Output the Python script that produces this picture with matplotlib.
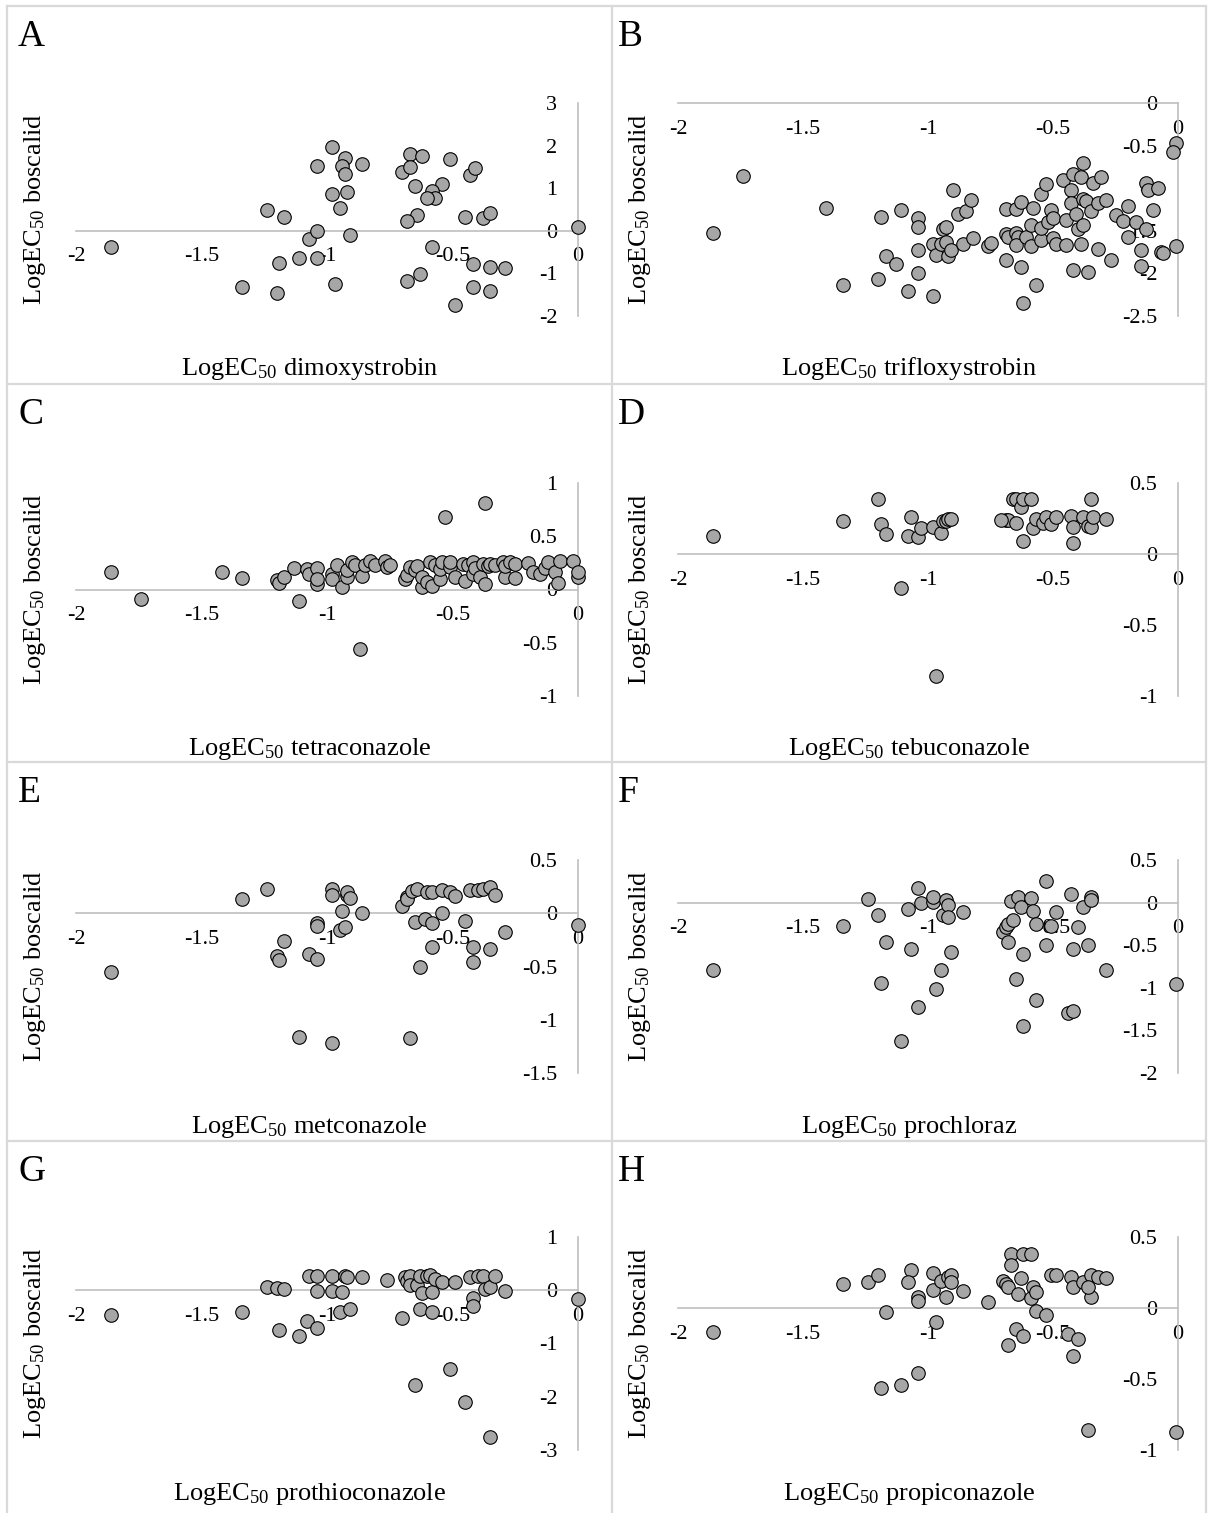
import matplotlib
matplotlib.use('Agg')
import matplotlib.pyplot as plt
from matplotlib.ticker import FuncFormatter
from matplotlib.lines import Line2D

plt.rcParams['font.family'] = ['Liberation Serif', 'DejaVu Serif']
plt.rcParams['mathtext.fontset'] = 'custom'
plt.rcParams['mathtext.rm'] = 'Liberation Serif'
plt.rcParams['mathtext.it'] = 'Liberation Serif:italic'
plt.rcParams['axes.unicode_minus'] = False

# ---------------- data ----------------
letters = ['A', 'B', 'C', 'D', 'E', 'F', 'G', 'H']
fungicides = ['dimoxystrobin', 'trifloxystrobin', 'tetraconazole', 'tebuconazole',
              'metconazole', 'prochloraz', 'prothioconazole', 'propiconazole']
x_ticks = [-2, -1.5, -1, -0.5, 0]
y_ticks_A = [-2, -1, 0, 1, 2, 3]
y_ticks_B = [-2.5, -2, -1.5, -1, -0.5, 0]
y_ticks_C = [-1, -0.5, 0, 0.5, 1]
y_ticks_D = [-1, -0.5, 0, 0.5]
y_ticks_E = [-1.5, -1, -0.5, 0, 0.5]
y_ticks_F = [-2, -1.5, -1, -0.5, 0, 0.5]
y_ticks_G = [-3, -2, -1, 0, 1]
y_ticks_H = [-1, -0.5, 0, 0.5]

A_x = [-1.86, -1.24, -1.17, -1.34, -1.20, -1.19, -1.11, -1.04, -1.07, -1.04,
       -1.04, -0.98, -0.93, -0.94, -0.93, -0.86, -0.98, -0.92, -0.95, -0.91,
       -0.97, -0.70, -0.67, -0.62, -0.67, -0.65, -0.51, -0.54, -0.58, -0.57,
       -0.60, -0.64, -0.68, -0.43, -0.41, -0.45, -0.38, -0.35, -0.58, -0.42,
       -0.35, -0.29, -0.63, -0.68, -0.42, -0.35, -0.49, 0.00]
A_y = [-0.39, 0.49, 0.33, -1.32, -1.46, -0.76, -0.63, -0.65, -0.19, 0.00,
       1.52, 1.97, 1.72, 1.52, 1.34, 1.57, 0.87, 0.91, 0.54, -0.09,
       -1.26, 1.38, 1.80, 1.76, 1.50, 1.06, 1.69, 1.09, 0.94, 0.77,
       0.77, 0.38, 0.24, 1.32, 1.47, 0.33, 0.30, 0.42, -0.39, -0.79,
       -0.85, -0.87, -1.01, -1.18, -1.31, -1.42, -1.75, 0.10]

B_x = [-1.86, -1.74, -1.41, -1.34, -1.19, -1.17, -1.20, -1.13, -1.11, -1.08,
       -1.04, -1.04, -1.04, -1.04, -0.98, -0.98, -0.97, -0.95, -0.94, -0.93,
       -0.93, -0.92, -0.91, -0.90, -0.88, -0.85, -0.83, -0.86, -0.82, -0.76,
       -0.75, -0.69, -0.69, -0.65, -0.63, -0.69, -0.68, -0.65, -0.64, -0.65,
       -0.61, -0.59, -0.59, -0.63, -0.62, -0.57, -0.58, -0.55, -0.55, -0.55,
       -0.53, -0.52, -0.51, -0.50, -0.50, -0.49, -0.45, -0.46, -0.45, -0.43,
       -0.43, -0.42, -0.42, -0.41, -0.40, -0.39, -0.39, -0.38, -0.38, -0.38,
       -0.37, -0.36, -0.35, -0.34, -0.32, -0.32, -0.31, -0.29, -0.27, -0.25,
       -0.22, -0.20, -0.20, -0.17, -0.15, -0.15, -0.13, -0.13, -0.12, -0.10,
       -0.08, -0.07, -0.06, -0.01, -0.01, -0.02]
B_y = [-1.53, -0.86, -1.23, -2.14, -1.34, -1.80, -2.06, -1.89, -1.26, -2.21,
       -1.35, -1.46, -1.73, -2.00, -2.27, -1.65, -1.78, -1.66, -1.48, -1.46,
       -1.63, -1.80, -1.73, -1.02, -1.30, -1.27, -1.14, -1.66, -1.58, -1.68,
       -1.64, -1.84, -1.24, -1.24, -1.16, -1.54, -1.57, -1.52, -1.57, -1.67,
       -1.57, -1.43, -1.68, -1.92, -2.35, -2.14, -1.23, -1.61, -1.47, -1.07,
       -0.95, -1.40, -1.26, -1.35, -1.58, -1.65, -1.67, -0.90, -1.37, -1.02,
       -1.17, -1.96, -0.83, -1.30, -1.48, -0.87, -1.66, -1.43, -0.70, -1.13,
       -1.15, -1.98, -1.27, -0.94, -1.17, -1.71, -0.87, -1.14, -1.84, -1.31,
       -1.38, -1.21, -1.57, -1.40, -1.72, -1.91, -1.48, -0.94, -1.02, -1.26,
       -1.00, -1.75, -1.76, -1.68, -0.47, -0.58]

C_x = [-1.86, -1.74, -1.42, -1.34, -1.20, -1.19, -1.17, -1.13, -1.11, -1.08,
       -1.07, -1.04, -1.04, -1.04, -0.98, -0.98, -0.96, -0.94, -0.92, -0.92,
       -0.90, -0.89, -0.86, -0.85, -0.83, -0.81, -0.77, -0.76, -0.75, -0.69,
       -0.68, -0.67, -0.65, -0.64, -0.62, -0.62, -0.60, -0.59, -0.58, -0.57,
       -0.55, -0.55, -0.54, -0.53, -0.51, -0.51, -0.49, -0.46, -0.45, -0.44,
       -0.42, -0.42, -0.41, -0.39, -0.38, -0.37, -0.37, -0.36, -0.35, -0.33,
       -0.30, -0.29, -0.29, -0.27, -0.25, -0.25, -0.20, -0.18, -0.15, -0.13,
       -0.12, -0.09, -0.08, -0.07, -0.02, 0.00, 0.00, -0.87]
C_y = [0.16, -0.09, 0.16, 0.11, 0.09, 0.06, 0.12, 0.20, -0.11, 0.19,
       0.15, 0.20, 0.05, 0.10, 0.15, 0.10, 0.23, 0.02, 0.12, 0.18,
       0.26, 0.23, 0.13, 0.23, 0.27, 0.23, 0.27, 0.21, 0.23, 0.10,
       0.14, 0.21, 0.18, 0.22, 0.02, 0.12, 0.07, 0.26, 0.03, 0.23,
       0.10, 0.19, 0.26, 0.68, 0.21, 0.26, 0.12, 0.24, 0.08, 0.23,
       0.26, 0.15, 0.20, 0.12, 0.24, 0.81, 0.05, 0.22, 0.24, 0.23,
       0.26, 0.12, 0.22, 0.26, 0.11, 0.24, 0.25, 0.16, 0.15, 0.20,
       0.26, 0.16, 0.06, 0.27, 0.27, 0.12, 0.16, -0.56]

D_x = [-1.86, -1.34, -1.20, -1.19, -1.17, -1.11, -1.08, -1.07, -1.04, -1.03,
       -0.98, -0.95, -0.94, -0.93, -0.92, -0.91, -0.97, -0.69, -0.68, -0.66,
       -0.65, -0.65, -0.63, -0.62, -0.62, -0.59, -0.58, -0.57, -0.54, -0.53,
       -0.51, -0.49, -0.43, -0.42, -0.42, -0.38, -0.36, -0.35, -0.35, -0.34,
       -0.29, -0.71]
D_y = [0.13, 0.23, 0.39, 0.21, 0.14, -0.24, 0.13, 0.26, 0.12, 0.18,
       0.19, 0.15, 0.23, 0.23, 0.25, 0.25, -0.86, 0.24, 0.24, 0.39,
       0.22, 0.39, 0.33, 0.09, 0.39, 0.39, 0.18, 0.25, 0.22, 0.26,
       0.21, 0.26, 0.27, 0.08, 0.19, 0.26, 0.20, 0.39, 0.19, 0.26,
       0.25, 0.24]

E_x = [-1.86, -1.34, -1.24, -1.17, -1.20, -1.19, -1.11, -1.07, -1.04, -1.04,
       -1.04, -0.98, -0.98, -0.98, -0.95, -0.94, -0.93, -0.92, -0.92, -0.91,
       -0.86, -0.70, -0.68, -0.68, -0.67, -0.66, -0.65, -0.64, -0.63, -0.61,
       -0.60, -0.58, -0.58, -0.58, -0.54, -0.54, -0.51, -0.49, -0.45, -0.43,
       -0.42, -0.42, -0.40, -0.38, -0.35, -0.35, -0.33, -0.29, 0.00]
E_y = [-0.55, 0.13, 0.23, -0.26, -0.40, -0.44, -1.16, -0.38, -0.43, -0.09,
       -0.12, 0.23, 0.17, -1.22, -0.16, 0.02, -0.13, 0.17, 0.20, 0.14,
       0.00, 0.07, 0.15, 0.13, -1.17, 0.21, -0.08, 0.23, -0.50, -0.05,
       0.20, -0.09, -0.32, 0.20, 0.00, 0.22, 0.20, 0.16, -0.07, 0.22,
       -0.32, -0.46, 0.22, 0.23, 0.25, -0.34, 0.17, -0.18, -0.11]

F_x = [-1.86, -1.34, -1.24, -1.20, -1.19, -1.17, -1.11, -1.08, -1.07, -1.04,
       -1.03, -1.04, -0.98, -0.98, -0.97, -0.95, -0.94, -0.93, -0.92, -0.92,
       -0.91, -0.86, -0.70, -0.69, -0.68, -0.68, -0.67, -0.66, -0.65, -0.64,
       -0.63, -0.62, -0.62, -0.59, -0.58, -0.57, -0.57, -0.53, -0.53, -0.51,
       -0.49, -0.44, -0.43, -0.42, -0.42, -0.40, -0.38, -0.36, -0.35, -0.35,
       -0.29, -0.01]
F_y = [-0.79, -0.27, 0.04, -0.14, -0.94, -0.46, -1.63, -0.07, -0.54, 0.17,
       -0.01, -1.23, 0.01, 0.06, -1.01, -0.79, -0.14, 0.03, -0.03, -0.17,
       -0.58, -0.11, -0.34, -0.29, -0.25, -0.46, 0.02, -0.20, -0.90, 0.06,
       -0.05, -1.45, -0.60, 0.05, -0.10, -0.25, -1.14, 0.25, -0.50, -0.27,
       -0.11, -1.30, 0.10, -0.55, -1.27, -0.29, -0.05, -0.50, 0.06, 0.03,
       -0.79, -0.95]

G_x = [-1.86, -1.34, -1.24, -1.20, -1.17, -1.19, -1.11, -1.08, -1.04, -1.07,
       -1.04, -1.04, -0.98, -0.98, -0.95, -0.94, -0.93, -0.92, -0.91, -0.86,
       -0.76, -0.70, -0.69, -0.68, -0.67, -0.67, -0.65, -0.64, -0.63, -0.63,
       -0.62, -0.60, -0.59, -0.58, -0.58, -0.57, -0.54, -0.51, -0.49, -0.45,
       -0.43, -0.42, -0.42, -0.40, -0.38, -0.37, -0.35, -0.35, -0.33, -0.29,
       0.00]
G_y = [-0.46, -0.40, 0.07, 0.04, 0.03, -0.74, -0.86, -0.58, -0.71, 0.26,
       0.26, -0.01, 0.26, -0.01, -0.40, -0.03, 0.26, 0.24, -0.36, 0.24,
       0.20, -0.52, 0.24, 0.18, 0.27, 0.09, -1.78, 0.10, 0.26, -0.36,
       -0.05, 0.26, 0.29, -0.40, -0.03, 0.22, 0.15, -1.48, 0.15, -2.09,
       0.24, -0.15, -0.29, 0.27, 0.27, 0.03, -2.75, 0.07, 0.27, -0.01,
       -0.17]

H_x = [-1.86, -1.34, -1.24, -1.20, -1.17, -1.19, -1.11, -1.07, -1.08, -1.04,
       -1.04, -1.04, -0.98, -0.98, -0.97, -0.95, -0.93, -0.92, -0.91, -0.91,
       -0.86, -0.76, -0.70, -0.69, -0.68, -0.68, -0.67, -0.67, -0.65, -0.64,
       -0.63, -0.62, -0.62, -0.59, -0.59, -0.58, -0.57, -0.57, -0.53, -0.51,
       -0.49, -0.44, -0.43, -0.42, -0.42, -0.40, -0.38, -0.35, -0.35, -0.32,
       -0.36, -0.29, -0.01, -0.36]
H_y = [-0.17, 0.17, 0.18, 0.23, -0.03, -0.56, -0.54, 0.27, 0.18, 0.08,
       0.05, -0.46, 0.25, 0.13, -0.10, 0.19, 0.08, 0.22, 0.23, 0.18,
       0.12, 0.04, 0.19, 0.17, -0.26, 0.15, 0.38, 0.30, -0.15, 0.10,
       0.21, -0.20, 0.38, 0.38, 0.07, 0.15, 0.11, -0.02, -0.05, 0.23,
       0.23, -0.18, 0.22, 0.15, -0.34, -0.22, 0.18, 0.08, 0.23, 0.22,
       -0.86, 0.21, -0.87, 0.15]

xs = [A_x, B_x, C_x, D_x, E_x, F_x, G_x, H_x]
ys = [A_y, B_y, C_y, D_y, E_y, F_y, G_y, H_y]
yticks = [y_ticks_A, y_ticks_B, y_ticks_C, y_ticks_D,
          y_ticks_E, y_ticks_F, y_ticks_G, y_ticks_H]

# ---------------- layout (pixels) ----------------
W, H = 1208, 1513
fig = plt.figure(figsize=(W / 100, H / 100), dpi=100)

cell_left = [7, 612]
cell_right = [612, 1206]
cell_top = [6, 384, 762, 1141]
ax_left = [76, 678]
ax_width = [502, 500]
ax_top = [103, 483, 860, 1237]
ax_height = 213
xlab_base = [375, 755, 1133, 1500]

border_col = '#D9D9D9'
for xv in [7, 612, 1206]:
    fig.add_artist(Line2D([xv / W, xv / W], [1 - 6 / H, 0], transform=fig.transFigure,
                          color=border_col, lw=1.6))
for yv in cell_top:
    fig.add_artist(Line2D([7 / W, 1206 / W], [1 - yv / H, 1 - yv / H], transform=fig.transFigure,
                          color=border_col, lw=1.6))


def fmt(v, pos):
    if abs(v) < 1e-9:
        return '0'
    return f'{v:g}'


axis_col = '#BFBFBF'
for i in range(8):
    r, c = divmod(i, 2)
    left = ax_left[c] / W
    bottom = 1 - (ax_top[r] + ax_height) / H
    ax = fig.add_axes([left, bottom, ax_width[c] / W, ax_height / H])
    ax.patch.set_visible(False)
    yt = yticks[i]
    ax.set_xlim(-2, 0)
    ax.set_ylim(min(yt), max(yt))
    ax.spines['top'].set_visible(False)
    ax.spines['right'].set_visible(False)
    ax.spines['left'].set_position(('data', 0))
    ax.spines['bottom'].set_position(('data', 0))
    for s in ['left', 'bottom']:
        ax.spines[s].set_color(axis_col)
        ax.spines[s].set_linewidth(1.2)
    ax.set_xticks(x_ticks)
    ax.set_yticks(yt)
    ax.xaxis.set_major_formatter(FuncFormatter(fmt))
    ax.yaxis.set_major_formatter(FuncFormatter(fmt))
    ax.tick_params(length=0, labelsize=16, labelcolor='black')
    ax.tick_params(axis='x', pad=12)
    ax.tick_params(axis='y', pad=15)
    ax.scatter(xs[i], ys[i], s=95, facecolor='#A6A6A6', edgecolor='black',
               linewidths=0.8, zorder=3, clip_on=False)

    # panel letter
    fig.text((cell_left[c] + (11 if c == 0 else 6)) / W, 1 - (cell_top[r] + 40) / H,
             letters[i], fontsize=27, ha='left', va='baseline')
    # x label
    cx = (cell_left[c] + cell_right[c]) / 2
    fig.text(cx / W, 1 - xlab_base[r] / H,
             'LogEC$_{50}$ ' + fungicides[i], fontsize=19, ha='center', va='baseline')
    # y label
    fig.text((cell_left[c] + 34) / W, 1 - (ax_top[r] + ax_height / 2) / H,
             'LogEC$_{50}$ boscalid', fontsize=19, rotation=90,
             rotation_mode='anchor', ha='center', va='baseline')

fig.savefig('out.png', dpi=100)
